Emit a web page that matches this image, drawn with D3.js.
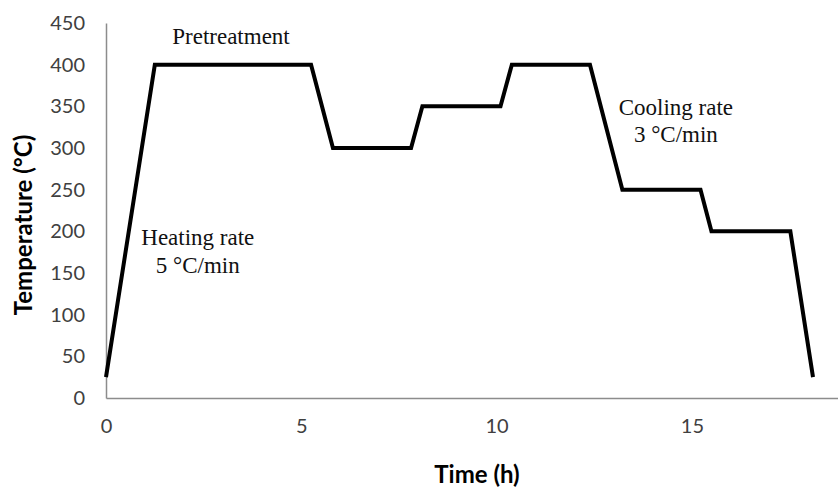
<!DOCTYPE html>
<html lang="en">
<head>
<meta charset="UTF-8">
<title>Temperature programme</title>
<script src="https://cdn.jsdelivr.net/npm/d3@7/dist/d3.min.js"></script>
<style>
    body { margin: 0; background: #fff; }
    svg { display: block; }
</style>
</head>
<body>
<svg id="chart" width="838" height="490"></svg>
<script>
    // temperature programme
    var timeH = [0, 1.25, 5.25, 5.81, 7.81, 8.1, 10.1, 10.39, 12.39, 13.22, 15.22, 15.5, 17.52, 18.1];
    var tempC = [25, 400, 400, 300, 300, 350, 350, 400, 400, 250, 250, 200, 200, 25];

    var xTicks = [0, 5, 10, 15];
    var yTicks = [0, 50, 100, 150, 200, 250, 300, 350, 400, 450];

    // annotation texts, anchored in data units (hours, °C)
    var noteLines = ["Pretreatment", "Heating rate", "5 °C/min", "Cooling rate", "3 °C/min"];
    var noteX = [3.2, 2.35, 2.35, 14.59, 14.59];
    var noteY = [425, 184, 150, 340, 307];

    var svg = d3.select("#chart");

    // plot frame (note: "top" is taken by window.top, so prefix them)
    var plotLeft = 106, plotTop = 23, plotBottom = 398, plotRight = 838;

    var x = d3.scaleLinear().domain([0, 18.74]).range([plotLeft, plotRight]);
    var y = d3.scaleLinear().domain([0, 450]).range([plotBottom, plotTop]);

    var axisColor = "#8c8c8c";
    var labelColor = "#404040";
    var sans = "Lato, 'Open Sans', sans-serif";
    var serif = "'Liberation Serif', 'Times New Roman', serif";

    // x axis
    var gx = svg.append("g")
        .attr("transform", "translate(0," + plotBottom + ")")
        .call(d3.axisBottom(x).tickValues(xTicks).tickSize(0).tickPadding(21));

    // y axis
    var gy = svg.append("g")
        .attr("transform", "translate(" + plotLeft + ",0)")
        .call(d3.axisLeft(y).tickValues(yTicks).tickSize(0).tickPadding(21));

    [gx, gy].forEach(function (g) {
        g.select(".domain").attr("stroke", axisColor).attr("stroke-width", 1.5);
        g.selectAll("text")
            .attr("fill", labelColor)
            .style("font-family", sans)
            .style("font-size", "20px");
    });

    // the curve
    var pts = timeH.map(function (t, i) { return [t, tempC[i]]; });
    var line = d3.line()
        .x(function (d) { return x(d[0]); })
        .y(function (d) { return y(d[1]); });

    svg.append("path")
        .datum(pts)
        .attr("d", line)
        .attr("fill", "none")
        .attr("stroke", "#000")
        .attr("stroke-width", 4)
        .attr("stroke-linejoin", "miter");

    // annotations
    svg.selectAll("text.note")
        .data(noteLines)
        .enter()
        .append("text")
        .attr("class", "note")
        .attr("x", function (d, i) { return x(noteX[i]); })
        .attr("y", function (d, i) { return y(noteY[i]); })
        .attr("text-anchor", "middle")
        .attr("fill", "#111")
        .style("font-family", serif)
        .style("font-size", "23px")
        .text(function (d) { return d; });

    // axis titles
    svg.append("text")
        .attr("x", 477)
        .attr("y", 483)
        .attr("text-anchor", "middle")
        .style("font-family", sans)
        .style("font-weight", "bold")
        .style("font-size", "24px")
        .text("Time (h)");

    svg.append("text")
        .attr("transform", "translate(32,225) rotate(-90)")
        .attr("text-anchor", "middle")
        .style("font-family", sans)
        .style("font-weight", "bold")
        .style("font-size", "24px")
        .text("Temperature (°C)");
</script>
</body>
</html>
